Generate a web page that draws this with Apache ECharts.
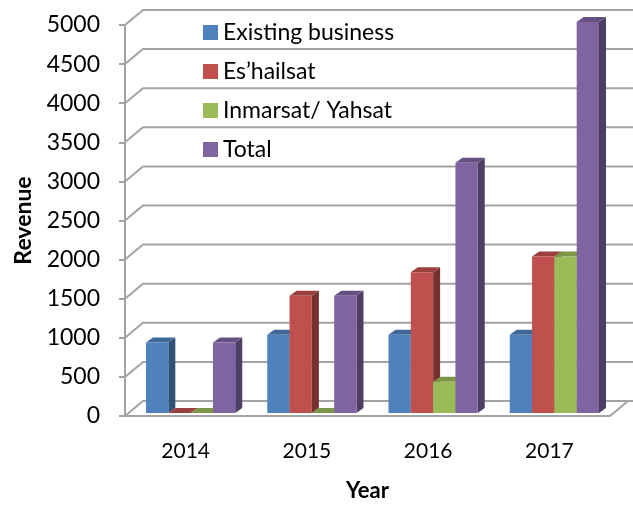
<!DOCTYPE html>
<html><head><meta charset="utf-8">
<script src="https://cdn.jsdelivr.net/npm/echarts@6/dist/echarts.min.js"></script>
<style>html,body{margin:0;padding:0;background:#fff}#c{width:633px;height:507px}</style>
</head><body><div id="c"></div>
<script>
const categories = ['2014', '2015', '2016', '2017'];
const existingBusiness = [900, 1000, 1000, 1000];
const eshailsat = [0, 1500, 1800, 2000];
const inmarsatYahsat = [0, 0, 400, 2000];
const total = [900, 1500, 3200, 5000];
const yTicks = [0, 500, 1000, 1500, 2000, 2500, 3000, 3500, 4000, 4500, 5000];
const seriesNames = ['Existing business', 'Es\u2019hailsat', 'Inmarsat/ Yahsat', 'Total'];
const seriesValues = [existingBusiness, eshailsat, inmarsatYahsat, total];
const colors = ['#4F81BD', '#C0504D', '#9BBB59', '#8064A2'];

const FONT = 'Lato';
const WALL_DX = 18, WALL_DY = -15;
const BAR_DX = 7, BAR_DY = -5;
const SHIFT_X = 5, SHIFT_Y = -3;
const GRID_COLOR = '#A3A3A3';

function shade(hex, f) {
  const n = parseInt(hex.slice(1), 16);
  const r = Math.round(((n >> 16) & 255) * f), g = Math.round(((n >> 8) & 255) * f), b = Math.round((n & 255) * f);
  return 'rgb(' + r + ',' + g + ',' + b + ')';
}

function barRender(si, color) {
  return function (params, api) {
    const ci = api.value(0), v = api.value(1);
    const base = api.coord([ci, 0]);
    const top = api.coord([ci, v]);
    const band = api.size([1, 0])[0];
    const bw = band * 0.184;
    const x0 = base[0] - 2 * bw + si * bw + SHIFT_X;
    const x1 = x0 + bw;
    const yb = base[1] + SHIFT_Y, yt = top[1] + SHIFT_Y;
    return {
      type: 'group',
      children: [
        { type: 'polygon', shape: { points: [[x1, yt], [x1 + BAR_DX, yt + BAR_DY], [x1 + BAR_DX, yb + BAR_DY], [x1, yb]] }, style: { fill: shade(color, 0.62) } },
        { type: 'polygon', shape: { points: [[x0, yt], [x0 + BAR_DX, yt + BAR_DY], [x1 + BAR_DX, yt + BAR_DY], [x1, yt]] }, style: { fill: shade(color, 0.8) } },
        { type: 'rect', shape: { x: x0, y: yt, width: bw, height: yb - yt }, style: { fill: color } }
      ]
    };
  };
}

function gridRender(params, api) {
  const cs = params.coordSys;
  const v = api.value(1);
  const y = api.coord([0, v])[1];
  const xl = cs.x, xr = cs.x + cs.width;
  const children = [
    { type: 'polyline', shape: { points: [[xl, y], [xl + WALL_DX, y + WALL_DY], [xr + 30, y + WALL_DY]] }, style: { stroke: GRID_COLOR, lineWidth: 2, fill: null } }
  ];
  if (v === 0) {
    children.push({ type: 'polyline', shape: { points: [[xl - 2, y], [xr, y], [xr + WALL_DX, y + WALL_DY]] }, style: { stroke: GRID_COLOR, lineWidth: 2, fill: null } });
  }
  return { type: 'group', children: children };
}

const series = [{
  type: 'custom', name: '__grid', z: 1, silent: true,
  data: yTicks.map(v => [0, v]),
  renderItem: gridRender
}];
seriesNames.forEach((n, si) => {
  series.push({
    type: 'custom', name: n, z: 2,
    itemStyle: { color: colors[si] },
    data: categories.map((c, i) => [i, seriesValues[si][i]]),
    encode: { x: 0, y: 1 },
    renderItem: barRender(si, colors[si])
  });
});

const chart = echarts.init(document.getElementById('c'), null, { renderer: 'canvas' });
chart.setOption({
  animation: false,
  backgroundColor: '#fff',
  grid: { left: 125, right: 23, top: 25, bottom: 86, containLabel: false },
  legend: {
    data: seriesNames.map((n, i) => ({ name: n, icon: 'rect', itemStyle: { color: colors[i] } })),
    orient: 'vertical', left: 203, top: 21, padding: 0,
    itemWidth: 15, itemHeight: 15, itemGap: 16,
    textStyle: { fontFamily: FONT, fontSize: 23, color: '#000', lineHeight: 23 }
  },
  xAxis: {
    type: 'category', data: categories,
    name: 'Year', nameLocation: 'middle', nameGap: 64,
    nameTextStyle: { fontFamily: FONT, fontSize: 22, fontWeight: 'bold', color: '#000' },
    axisLine: { show: false }, axisTick: { show: false },
    axisLabel: { fontFamily: FONT, fontSize: 21, color: '#000', margin: 25 },
    splitLine: { show: false }
  },
  yAxis: {
    type: 'value', min: 0, max: 5000, interval: 500,
    name: 'Revenue', nameLocation: 'middle', nameGap: 90, nameRotate: 90,
    nameTextStyle: { fontFamily: FONT, fontSize: 23, fontWeight: 'bold', color: '#000' },
    axisLine: { show: true, lineStyle: { color: GRID_COLOR, width: 2 } },
    axisTick: { show: true, length: 6, lineStyle: { color: GRID_COLOR, width: 2 } },
    axisLabel: { fontFamily: FONT, fontSize: 23, color: '#000', margin: 25, formatter: v => String(v) },
    splitLine: { show: false }
  },
  series: series
});
</script></body></html>
